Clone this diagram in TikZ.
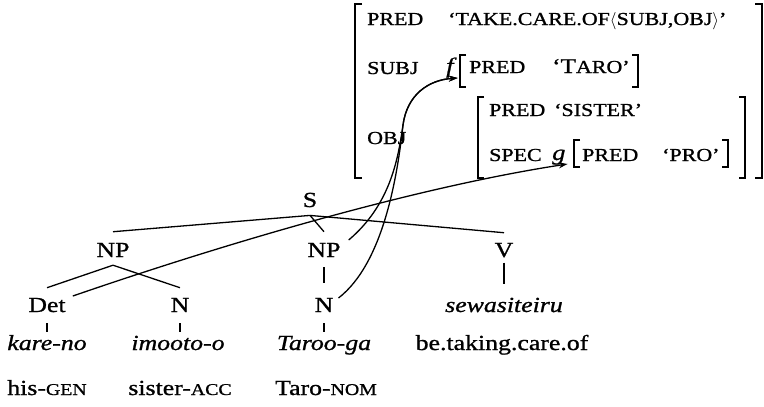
\documentclass[tikz,border=0pt]{standalone}
\usepackage{fontspec}
\setmainfont{Liberation Serif}[FakeStretch=1.2,FakeBold=1]
\usetikzlibrary{arrows.meta}
\newcommand{\gsc}[1]{{\fontsize{16.5}{16.5}\selectfont #1}}
\begin{document}
\begin{tikzpicture}[x=1pt,y=-1pt,
  tn/.style={inner sep=0pt, anchor=base, font=\fontsize{21.5}{21.5}\selectfont},
  wd/.style={inner sep=0pt, anchor=base, font=\fontsize{21.5}{21.5}\selectfont\itshape},
  av/.style={inner sep=0pt, anchor=base west, font=\fontsize{18.3}{18.3}\selectfont},
  fv/.style={inner sep=0pt, anchor=base west, font=\fontsize{22}{22}\selectfont\itshape},
  br/.style={line width=1.8pt},
  ln/.style={line width=1.3pt},
  ar/.style={line width=1.3pt, -{Stealth[length=9pt,width=6pt]}}]
\useasboundingbox (0,0) rectangle (764,407);
% tree
\node[tn] (S) at (310,207) {S};
\node[tn] (NP1) at (113,257) {NP};
\node[tn] (NP2) at (324,257) {NP};
\node[tn] (V) at (504,257) {V};
\node[tn] (Det) at (47,312) {Det};
\node[tn] (N1) at (180,312) {N};
\node[tn] (N2) at (324,312) {N};
\node[wd] (sew) at (504,312) {sewasiteiru};
\node[wd] (kare) at (47,350) {kare-no};
\node[wd] (imo) at (178,350) {imooto-o};
\node[wd] (taroo) at (324,350) {Taroo-ga};
\node[tn] (betak) at (502,350) {be.taking.care.of};
\node[tn] (his) at (47,395) {his-\gsc{GEN}};
\node[tn] (sis) at (180,395) {sister-\gsc{ACC}};
\node[tn] (taro) at (326,395) {Taro-\gsc{NOM}};
\draw[ln] ([yshift=-8pt]S.south) -- ([yshift=11pt]NP1.north);
\draw[ln] ([yshift=-8pt]S.south) -- ([yshift=11pt]NP2.north);
\draw[ln] ([yshift=-8pt]S.south) -- ([yshift=10pt]V.north);
\draw[ln] ([yshift=-8pt]NP1.south) -- ([yshift=10pt]Det.north);
\draw[ln] ([yshift=-8pt]NP1.south) -- ([yshift=10pt]N1.north);
\draw[ln] ([yshift=-10pt]NP2.south) -- ([yshift=15pt]N2.north);
\draw[ln] ([yshift=-11pt]Det.south) -- ([yshift=-20pt]Det.south);
\draw[ln] ([yshift=-11pt]N1.south) -- ([yshift=-20pt]N1.south);
\draw[ln] ([yshift=-11pt]N2.south) -- ([yshift=-20pt]N2.south);
\draw[ln] ([yshift=-5pt]V.south) -- ([yshift=-26pt]V.south);
% f-structure
\node[av] (p1) at (367,25) {PRED};
\node[av] (v1) at (448,25) {`TAKE.CARE.OF$\langle$SUBJ,OBJ$\rangle$'};
\node[av] (s1) at (367,74) {SUBJ};
\node[fv] (f) at (446,73) {f};
\node[av] (p2) at (469,73) {PRED};
\node[av] (v2) at (552,73) {{\fontsize{21}{21}\selectfont`T}ARO'};
\node[av] (o1) at (367,144) {OBJ};
\node[av] (p3) at (489,116) {PRED};
\node[av] (v3) at (554,116) {`SISTER'};
\node[av] (sp) at (489,161) {SPEC};
\node[fv] (g) at (552,160) {g};
\node[av] (p4) at (582,161) {PRED};
\node[av] (v4) at (662,161) {`PRO'};
\draw[br] (362,4) -- (355,4) -- (355,178) -- (362,178);
\draw[br] (755,4) -- (762,4) -- (762,178) -- (755,178);
\draw[br] (466,55) -- (460,55) -- (460,87) -- (466,87);
\draw[br] (632,55) -- (638,55) -- (638,87) -- (632,87);
\draw[br] (484,97) -- (478,97) -- (478,178) -- (484,178);
\draw[br] (739,97) -- (745,97) -- (745,178) -- (739,178);
\draw[br] (580,140) -- (574,140) -- (574,167) -- (580,167);
\draw[br] (722,140) -- (728,140) -- (728,167) -- (722,167);
% correspondence arrows
\draw[ar] ([shift={(7,-16)}]Det.base east) .. controls (250,235) and (430,185) .. ([shift={(2,4)}]g.base east);
\draw[ar] ([shift={(8,-17)}]NP2.base east) .. controls (390,205) and (398,160) .. (403,125)
   .. controls (407,95) and (428,80) .. ([shift={(4,5)}]f.base east);
\draw[ar] ([shift={(5,-14)}]N2.base east) .. controls (385,262) and (398,170) .. (403,125)
   .. controls (407,95) and (428,80) .. ([shift={(4,5)}]f.base east);
\end{tikzpicture}
\end{document}
